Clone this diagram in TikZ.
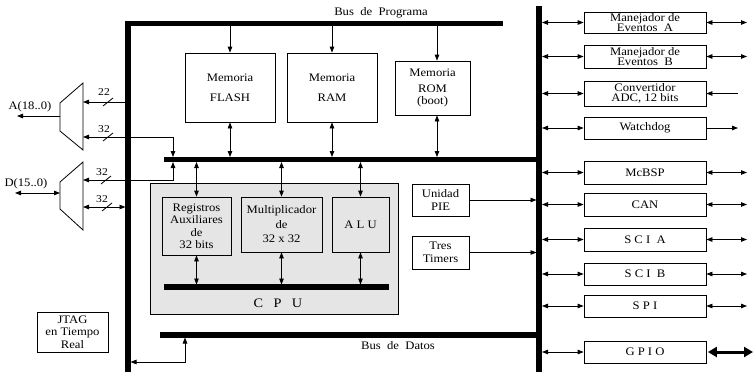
\documentclass[tikz,border=0pt]{standalone}
\usepackage{fontspec}
\setmainfont{Liberation Serif}[FakeStretch=1.1]
\usetikzlibrary{arrows.meta,calc}
\definecolor{cpugray}{gray}{0.9}

\begin{document}
\begin{tikzpicture}[x=1pt,y=-1pt,
  >={Triangle[length=6pt,width=4.5pt]},
  bus/.style={line width=5.5pt},
  link/.style={line width=0.8pt},
  blk/.style={draw,line width=0.8pt,align=center,inner sep=0pt,
    font=\fontsize{11.5}{12.5}\selectfont},
  cpublk/.style={blk,fill=cpugray},
  perif/.style={blk,minimum width=122pt,font=\fontsize{11.5}{10.5}\selectfont},
  lbl/.style={inner sep=0pt,font=\fontsize{11.5}{12}\selectfont},
  wlbl/.style={inner sep=0pt,font=\fontsize{10.5}{10}\selectfont},
  muxline/.style={line width=0.8pt,line join=miter},
  fat/.style={line width=3pt,
    {Triangle[length=9pt,width=10pt]}-{Triangle[length=9pt,width=10pt]}}
]
\useasboundingbox (0,0) rectangle (754,372);

% ---------- buses ----------
\coordinate (pb-w) at (128,372);
\coordinate (pb-c) at (128,23.5);
\coordinate (pb-e) at (503,23.5);
\draw[bus,line join=miter] (pb-w) -- (pb-c) -- (pb-e);
\coordinate (rb-n) at (539,6);
\coordinate (rb-s) at (539,372);
\draw[bus] (rb-n) -- (rb-s);
\coordinate (db-w) at (164,159.5);
\coordinate (db-e) at (539,159.5);
\draw[bus] (db-w) -- (db-e);
\coordinate (bd-w) at (160,335);
\coordinate (bd-e) at (539,335);
\draw[bus] (bd-w) -- (bd-e);

\node[lbl] (lbl-prog) at (381,13) {Bus\ \ de\ \ Programa};
\node[lbl] (lbl-dat) at (398,346) {Bus\ \ de\ \ Datos};

% ---------- memories ----------
\node[blk,minimum width=90pt,minimum height=69pt] (flash) at (230,87.5) {Memoria\\[8pt]FLASH};
\node[blk,minimum width=90pt,minimum height=69pt] (ram) at (332,87.5) {Memoria\\[7pt]RAM};
\node[blk,minimum width=75pt,minimum height=54pt] (rom) at (432.5,88) {Memoria\\[3pt]ROM\\(boot)};
\coordinate (rom-n) at ($(rom.north)+(4.5,0)$);
\coordinate (rom-s) at ($(rom.south)+(4.5,0)$);

\draw[link,->,shorten <=2.5pt] (flash.north |- pb-c) -- (flash.north);
\draw[link,->,shorten <=2.5pt] (ram.north |- pb-c) -- (ram.north);
\draw[link,->,shorten <=2.5pt] (rom-n |- pb-c) -- (rom-n);
\draw[link,<->,shorten >=2.5pt] (flash.south) -- (flash.south |- db-w);
\draw[link,<->,shorten >=2.5pt] (ram.south) -- (ram.south |- db-w);
\draw[link,<->,shorten >=2.5pt] (rom-s) -- (rom-s |- db-w);

% ---------- address multiplexer ----------
\coordinate (ma-1) at (83,83);
\coordinate (ma-2) at (83,150);
\coordinate (ma-3) at (60,131);
\coordinate (ma-4) at (60,103);
\draw[muxline] (ma-1) -- (ma-2) -- (ma-3) -- (ma-4) -- cycle;
\coordinate (ma-in1) at (83,102);
\coordinate (ma-in2) at (83,137);
\coordinate (ma-tap) at (173,137);
\coordinate (ma-out) at (60,116);
\coordinate (a-ext) at (17,116);
\draw[link,->,shorten <=2.5pt] (ma-in1 -| pb-c) -- (ma-in1);
\draw[link,<->,shorten >=2.5pt] (ma-in2) -- (ma-tap) -- (ma-tap |- db-w);
\draw[link,->] (ma-out) -- (a-ext);
\node[lbl] (lbl-a) at (30,107) {A(18..0)};
\draw[link] (103,106) -- (113,98);
\node[wlbl] (w-a1) at (104,92) {22};
\draw[link] (103,141) -- (113,133);
\node[wlbl] (w-a2) at (104,129) {32};

% ---------- data multiplexer ----------
\coordinate (md-1) at (83,162);
\coordinate (md-2) at (83,230);
\coordinate (md-3) at (60,209);
\coordinate (md-4) at (60,182);
\draw[muxline] (md-1) -- (md-2) -- (md-3) -- (md-4) -- cycle;
\coordinate (md-in1) at (83,180);
\coordinate (md-tap) at (173,180);
\coordinate (md-in2) at (83,207);
\coordinate (md-out) at (60,193);
\coordinate (d-ext) at (15,193);
\draw[link,<->,shorten >=2.5pt] (md-in1) -- (md-tap) -- (md-tap |- db-w);
\draw[link,<->,shorten >=2.5pt] (md-in2) -- (md-in2 -| pb-c);
\draw[link,<->] (d-ext) -- (md-out);
\node[lbl] (lbl-d) at (26,184) {D(15..0)};
\draw[link] (101,184) -- (111,176);
\node[wlbl] (w-d1) at (102,172) {32};
\draw[link] (102,211) -- (112,203);
\node[wlbl] (w-d2) at (102,199) {32};

% ---------- CPU ----------
\node[cpublk,minimum width=248pt,minimum height=131pt] (cpu) at (274,248.5) {};
\node[lbl,font=\fontsize{13}{13}\selectfont] (cpu-lbl) at (278,303) {C\hspace{0.8em}P\hspace{0.8em}U};
\node[cpublk,minimum width=69pt,minimum height=58pt] (regs) at (196.5,226) {Registros\\Auxiliares\\de\\32 bits};
\node[cpublk,minimum width=81pt,minimum height=55pt] (mult) at (281.5,224.5) {Multiplicador\\[2pt]de\\[2pt]32 x 32};
\node[cpublk,minimum width=57pt,minimum height=55pt] (alu) at (360.5,224.5) {A\ L\ U};
\coordinate (cb-w) at (164,287);
\coordinate (cb-e) at (389,287);
\draw[bus] (cb-w) -- (cb-e);
\foreach \blkname in {regs,mult,alu}{
  \draw[link,<->,shorten <=2.5pt] (\blkname.north |- db-w) -- (\blkname.north);
  \draw[link,<->,shorten >=2.5pt] (\blkname.south) -- (\blkname.south |- cb-w);
}

% ---------- interrupt unit and timers ----------
\node[blk,minimum width=57pt,minimum height=32pt] (pie) at (440.5,200) {Unidad\\PIE};
\node[blk,minimum width=57pt,minimum height=33pt] (timers) at (440.5,252.5) {Tres\\Timers};
\draw[link,->,shorten >=2.5pt] (pie.east) -- (pie.east -| rb-n);
\draw[link,->,shorten >=2.5pt] (timers.east) -- (timers.east -| rb-n);

% ---------- JTAG ----------
\node[blk,minimum width=71pt,minimum height=40pt] (jtag) at (72.5,332) {JTAG\\en Tiempo\\Real};
\coordinate (jt-c) at (185,362);
\draw[link,<->,shorten <=2.5pt,shorten >=2.5pt] (jt-c |- bd-w) -- (jt-c) -- (jt-c -| pb-c);

% ---------- peripherals ----------
\foreach \nm/\yc/\hh/\txt in {
  manA/22.5/21/{Manejador de\\Eventos\ \ A},
  manB/56.5/23/{Manejador de\\Eventos\ \ B},
  adc/93.5/25/{Convertidor\\ADC, 12 bits},
  wd/128/22/{Watchdog},
  mcbsp/172.5/23/{McBSP},
  can/204.5/23/{CAN},
  scia/239.5/23/{S\ C\ I\ \ A},
  scib/274/22/{S\ C\ I\ \ B},
  spi/306/22/{S\ P\ I},
  gpio/352/22/{G\ P\ I\ O}}{
  \node[perif,minimum height=\hh pt] (\nm) at (645,\yc) {\txt};
  \draw[link,<->,shorten <=3pt] (\nm.west -| rb-n) -- (\nm.west);
  \coordinate (\nm-o) at (747,\yc);
}
\foreach \nm in {manA,manB,mcbsp,can,scia,scib,spi}{
  \draw[link,<->] (\nm.east) -- (\nm-o);
}
\coordinate (adc-i) at (738,93.5);
\draw[link,->] (adc-i) -- (adc.east);
\coordinate (wd-e) at (738,128);
\draw[link,->] (wd.east) -- (wd-e);
\coordinate (gpio-e) at (753,352);
\draw[fat,shorten <=1.5pt] (gpio.east) -- (gpio-e);
\end{tikzpicture}
\end{document}
